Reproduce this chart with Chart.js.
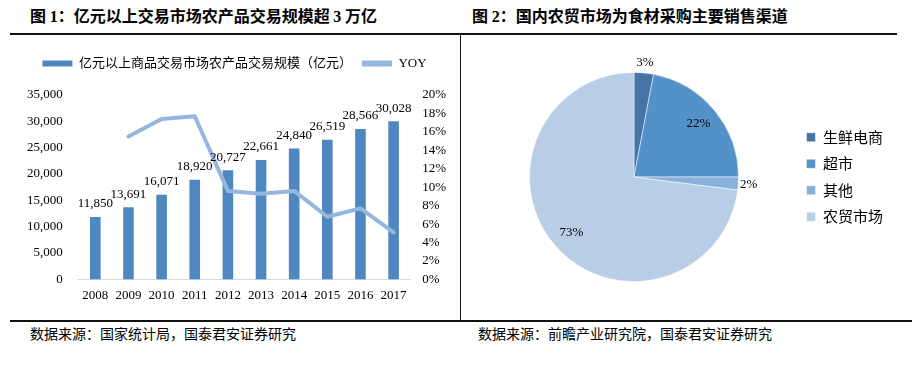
<!DOCTYPE html>
<html>
<head>
<meta charset="utf-8">
<script src="https://cdn.jsdelivr.net/npm/chart.js@4.4.1/dist/chart.umd.min.js"></script>
<style>
  body { margin: 0; background: #fff; width: 920px; height: 365px; position: relative; overflow: hidden;
         font-family: 'Noto Sans CJK SC', sans-serif; color: #000; }
  .title { position: absolute; top: 3px; font-size: 16px; font-weight: bold; white-space: nowrap; }
  .num { font-family: 'Liberation Serif', serif; }
  .src { position: absolute; top: 323px; font-size: 14px; white-space: nowrap; }
  .line { position: absolute; background: #111; }
  #box1 { position: absolute; left: 0; top: 41px; width: 474px; height: 275px; }
  #box2 { position: absolute; left: 470px; top: 40px; width: 430px; height: 275px; }
</style>
</head>
<body>
<div class="title" style="left:30px">图 <span class="num">1</span>：亿元以上交易市场农产品交易规模超 <span class="num">3</span> 万亿</div>
<div class="title" style="left:472px">图 <span class="num">2</span>：国内农贸市场为食材采购主要销售渠道</div>
<div class="line" style="left:10px; top:33px; width:887px; height:1.5px"></div>
<div class="line" style="left:460px; top:34px; width:1px; height:287px"></div>
<div class="line" style="left:10px; top:320px; width:902px; height:1.5px"></div>
<div class="src" style="left:30px">数据来源：国家统计局，国泰君安证券研究</div>
<div class="src" style="left:478px">数据来源：前瞻产业研究院，国泰君安证券研究</div>

<div id="box1"><canvas id="c1" width="474" height="275"></canvas></div>
<div id="box2"><canvas id="c2" width="430" height="275"></canvas></div>

<script>
// 图1 数据
const years = ['2008', '2009', '2010', '2011', '2012', '2013', '2014', '2015', '2016', '2017'];
const tradeScale = [11850, 13691, 16071, 18920, 20727, 22661, 24840, 26519, 28566, 30028];
const yoy = [null, 15.5, 17.4, 17.7, 9.6, 9.3, 9.6, 6.8, 7.7, 5.1];

// 图2 数据
const channels = ['生鲜电商', '超市', '其他', '农贸市场'];
const channelShare = [3, 22, 2, 73];

const serif = "'Liberation Serif', 'Times New Roman', 'Noto Sans CJK SC', serif";
Chart.defaults.color = '#000';
Chart.defaults.font.family = serif;
Chart.defaults.font.size = 13;

// 图例下方留白
const legendGap = {
    id: 'legendGap',
    beforeLayout(chart, args, opts) {
        const legend = chart.legend;
        if (!legend || legend._gapPatched) return;
        const fit = legend.fit;
        legend.fit = function () {
            fit.call(this);
            this.height += opts.gap || 0;
        };
        legend._gapPatched = true;
    }
};

// 柱顶数值
const barValues = {
    id: 'barValues',
    afterDatasetsDraw(chart) {
        const ctx = chart.ctx;
        const values = chart.data.datasets[0].data;
        ctx.save();
        ctx.font = "13px 'Liberation Serif'";
        ctx.fillStyle = '#000';
        ctx.textAlign = 'center';
        ctx.textBaseline = 'middle';
        chart.getDatasetMeta(0).data.forEach((bar, i) => {
            ctx.fillText(values[i].toLocaleString('en-US'), bar.x, bar.y - 13);
        });
        ctx.restore();
    }
};

// 饼图百分比
const pieLabels = {
    id: 'pieLabels',
    afterDatasetsDraw(chart) {
        const ctx = chart.ctx;
        const values = chart.data.datasets[0].data;
        ctx.save();
        ctx.font = "13px 'Liberation Serif'";
        ctx.fillStyle = '#000';
        ctx.textAlign = 'center';
        ctx.textBaseline = 'middle';
        chart.getDatasetMeta(0).data.forEach((arc, i) => {
            const a = (arc.startAngle + arc.endAngle) / 2;
            const r = arc.outerRadius * (values[i] < 5 ? 1.1 : 0.8);
            ctx.fillText(values[i] + '%', arc.x + Math.cos(a) * r, arc.y + Math.sin(a) * r);
        });
        ctx.restore();
    }
};

new Chart(document.getElementById('c1'), {
    type: 'bar',
    data: {
        labels: years,
        datasets: [
            {
                type: 'bar',
                label: '亿元以上商品交易市场农产品交易规模（亿元）',
                data: tradeScale,
                backgroundColor: '#4f88c0',
                yAxisID: 'y',
                order: 2,
                categoryPercentage: 1,
                barPercentage: 0.32
            },
            {
                type: 'line',
                label: 'YOY',
                data: yoy,
                borderColor: '#95b7de',
                backgroundColor: '#95b7de',
                borderWidth: 4,
                pointRadius: 0,
                tension: 0,
                borderCapStyle: 'round',
                borderJoinStyle: 'round',
                yAxisID: 'y1',
                order: 1
            }
        ]
    },
    options: {
        responsive: false,
        animation: false,
        layout: { padding: { top: 6, left: 11, right: 16, bottom: 5 } },
        plugins: {
            legend: {
                onClick: null,
                labels: {
                    boxWidth: 30,
                    boxHeight: 6,
                    padding: 10,
                    font: { size: 13, family: serif },
                    generateLabels: chart => chart.data.datasets.map((ds, i) => ({
                        text: ds.label,
                        fillStyle: ds.type === 'line' ? ds.borderColor : ds.backgroundColor,
                        strokeStyle: 'transparent',
                        lineWidth: 0,
                        fontColor: '#000',
                        hidden: false,
                        datasetIndex: i
                    }))
                }
            },
            tooltip: { enabled: false },
            legendGap: { gap: 15 }
        },
        scales: {
            x: {
                grid: { display: false, drawTicks: false },
                border: { display: true, color: '#d9d9d9', width: 1 },
                ticks: { padding: 8, maxRotation: 0, minRotation: 0, autoSkip: false }
            },
            y: {
                position: 'left',
                min: 0,
                max: 35000,
                ticks: { stepSize: 5000, padding: 16, autoSkip: false },
                grid: { display: false, drawTicks: false },
                border: { display: false }
            },
            y1: {
                position: 'right',
                min: 0,
                max: 20,
                ticks: { stepSize: 2, padding: 12, autoSkip: false, callback: v => v + '%' },
                grid: { display: false, drawTicks: false },
                border: { display: false }
            }
        }
    },
    plugins: [legendGap, barValues]
});

new Chart(document.getElementById('c2'), {
    type: 'pie',
    data: {
        labels: channels,
        datasets: [{
            data: channelShare,
            backgroundColor: ['#4674a6', '#5591c9', '#89afdb', '#b8cde6'],
            borderColor: 'rgba(255,255,255,0.5)',
            borderWidth: 1
        }]
    },
    options: {
        responsive: false,
        animation: false,
        layout: { padding: { top: 32, bottom: 33, left: 3, right: 7 } },
        plugins: {
            legend: {
                position: 'right',
                onClick: null,
                labels: {
                    boxWidth: 9,
                    boxHeight: 9,
                    padding: 11.5,
                    color: '#000',
                    font: { size: 15, family: "'Noto Sans CJK SC', sans-serif" }
                }
            },
            tooltip: { enabled: false }
        }
    },
    plugins: [pieLabels]
});
</script>
</body>
</html>
